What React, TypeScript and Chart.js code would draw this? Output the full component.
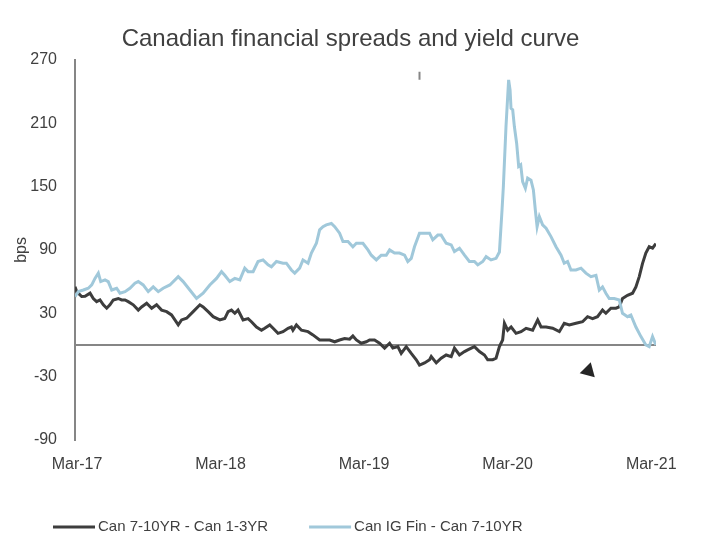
import { useEffect, useRef } from "react";
import { Chart, registerables } from "chart.js";

Chart.register(...registerables);

const TITLE = "Canadian financial spreads and yield curve";
const Y_TITLE = "bps";
const Y_MIN = -90;
const Y_MAX = 270;
const Y_STEP = 60;
const ZERO_LINE = 0;
const X_MIN = -0.17;
const X_MAX = 48.4;
const X_TICK_MONTHS = [0, 12, 24, 36, 48];
const X_TICK_LABELS = ["Mar-17", "Mar-18", "Mar-19", "Mar-20", "Mar-21"];

// x values: months since March 2017
const CURVE_LABEL = "Can 7-10YR - Can 1-3YR";
const CURVE_MONTHS = [
  -0.17, -0.03, 0.39, 0.67, 1.09, 1.36, 1.64, 1.92, 2.2, 2.48, 2.75, 3.03, 3.45, 3.73, 4.01, 4.28,
  4.7, 5.12, 5.4, 5.82, 6.24, 6.65, 7.07, 7.49, 7.9, 8.46, 8.74, 9.16, 9.71, 10.27, 10.54, 10.96,
  11.38, 11.94, 12.35, 12.63, 12.91, 13.19, 13.46, 13.88, 14.3, 14.58, 15.0, 15.42, 15.69, 16.11,
  16.39, 16.8, 17.22, 17.64, 17.92, 18.05, 18.34, 18.76, 19.31, 19.72, 20.28, 20.7, 21.12, 21.54,
  21.95, 22.37, 22.79, 23.06, 23.35, 23.76, 24.18, 24.46, 24.87, 25.29, 25.71, 26.13, 26.4, 26.82,
  27.1, 27.52, 27.94, 28.36, 28.63, 29.05, 29.47, 29.61, 30.03, 30.44, 30.86, 31.28, 31.55, 31.97,
  32.39, 32.66, 33.22, 33.64, 34.06, 34.33, 34.75, 35.03, 35.31, 35.58, 35.73, 36.0, 36.29, 36.7,
  37.12, 37.54, 38.09, 38.51, 38.79, 39.21, 39.76, 40.32, 40.73, 41.15, 41.71, 42.26, 42.68, 43.1,
  43.51, 43.93, 44.21, 44.63, 45.05, 45.33, 45.6, 46.02, 46.44, 46.72, 47.0, 47.27, 47.55, 47.83,
  48.11, 48.39,
];
const CURVE_BPS = [
  55, 50.5, 45.8, 46, 49, 44, 41, 42.6, 38, 34.8, 38, 42.6, 44, 42.6, 42.6, 41,
  38, 33, 36, 39.5, 34.8, 38, 33, 31.5, 28.4, 19, 23.7, 25.3, 31.5, 38, 36, 31.5,
  26.8, 23.7, 25, 31.5, 33, 30, 33, 23.7, 25, 22, 17, 14, 15.8, 19,
  15.8, 11, 12.6, 15.8, 17, 14, 19, 14, 12.6, 9.5, 4.7, 4.7, 4.7, 3,
  4.7, 6, 5.5, 8.5, 4.7, 1.6, 3, 4.7, 4.7, 1.6, -3, 1.6, -3, -1.6,
  -8, -1.6, -8, -14, -19, -17, -14, -11, -17, -12.6, -9.5, -11, -3, -9.5,
  -6.3, -4.7, -1.6, -6.3, -9.5, -14, -14, -12.6, -1.6, 4.7, 20.5, 14, 17, 11,
  12.6, 15.8, 14, 23.7, 17, 17, 15.8, 12.6, 20.5, 19, 20.5, 22, 26.8, 25,
  26.8, 33, 30, 34.8, 34.8, 36, 44, 47, 49, 55, 64.7, 77, 87, 93,
  91.6, 96,
];

const FIN_LABEL = "Can IG Fin - Can 7-10YR";
const FIN_MONTHS = [
  -0.17, 0.11, 0.53, 0.94, 1.23, 1.5, 1.78, 1.98, 2.34, 2.61, 2.9, 3.31, 3.59, 4.01, 4.42, 4.84,
  5.12, 5.53, 5.95, 6.37, 6.79, 7.2, 7.76, 8.46, 8.87, 9.43, 9.99, 10.54, 11.1, 11.66, 12.08, 12.35,
  12.77, 13.19, 13.61, 14.02, 14.3, 14.72, 15.13, 15.55, 15.97, 16.25, 16.67, 17.22, 17.5, 17.92,
  18.2, 18.61, 18.89, 19.31, 19.59, 20.01, 20.28, 20.56, 20.84, 21.26, 21.54, 21.95, 22.23, 22.65,
  23.06, 23.35, 23.9, 24.32, 24.6, 25.02, 25.43, 25.85, 26.13, 26.54, 26.96, 27.38, 27.65, 27.94,
  28.21, 28.63, 29.05, 29.47, 29.74, 30.16, 30.44, 30.86, 31.28, 31.55, 31.97, 32.39, 32.8, 33.22,
  33.5, 33.92, 34.2, 34.61, 35.03, 35.31, 35.53, 35.64, 35.86, 36.08, 36.2, 36.28, 36.42, 36.56,
  36.75, 36.92, 37.09, 37.25, 37.48, 37.67, 37.95, 38.15, 38.31, 38.46, 38.65, 38.92, 39.21, 39.62,
  40.04, 40.46, 40.73, 41.01, 41.29, 41.71, 42.13, 42.54, 42.96, 43.38, 43.66, 43.93, 44.21, 44.49,
  44.91, 45.33, 45.6, 46.02, 46.3, 46.72, 47.14, 47.55, 47.83, 48.11, 48.39,
];
const FIN_BPS = [
  45.8, 50.5, 52, 53.7, 56.8, 63, 68, 60, 61.6, 60, 52, 53.7, 49, 50.5, 53.7, 58.4,
  60, 56.8, 50.5, 55, 50.5, 53.7, 56.8, 64.7, 60, 52, 44, 49, 56.8, 63, 69.4, 66,
  60, 63, 61.6, 72.7, 69.4, 69.4, 79, 80.5, 75.8, 74, 79, 77.4, 77.4, 71,
  68, 72.7, 80.5, 77.4, 87, 96.3, 109, 112, 113.7, 115, 112, 105.8, 97.9, 97.9,
  93, 96.3, 96.3, 90, 85, 80.5, 85, 85, 90, 87, 87, 85, 79, 82,
  93, 105.8, 105.8, 105.8, 99.5, 104, 104, 96.3, 94.7, 88.4, 91.6, 85, 79, 79,
  75.8, 79, 83.6, 80.5, 82, 88, 128, 150, 206.8, 251, 241.6, 224, 222.6, 206.8,
  191, 169, 170.5, 154.7, 148.4, 157.9, 156, 146.8, 128, 112, 121.6, 113.7, 110.5, 102.6,
  93, 85, 77.4, 79, 71, 71, 72.7, 68, 64.7, 66, 52, 55, 49, 44,
  44, 42.6, 30, 26.8, 28.4, 17, 7.9, 0, -1.6, 7.9, 0,
];

const ARROW_MONTHS = [42.75];
const ARROW_BPS = [-24.5];
const MARK_MONTHS = [28.63, 28.63];
const MARK_BPS = [258.6, 251];

const FONT = '"Liberation Sans", Arial, sans-serif';
const TEXT = "#404040";
const AXIS_GRAY = "#868686";

const pts = (xs: number[], ys: number[]) => xs.map((x, i) => ({ x, y: ys[i] }));

const zeroLinePlugin = {
  id: "zeroLine",
  beforeDatasetsDraw(chart: any) {
    const { ctx, chartArea, scales } = chart;
    const y = scales.y.getPixelForValue(ZERO_LINE);
    ctx.save();
    ctx.strokeStyle = AXIS_GRAY;
    ctx.lineWidth = 2;
    ctx.beginPath();
    ctx.moveTo(chartArea.left, y);
    ctx.lineTo(chartArea.right, y);
    ctx.stroke();
    ctx.restore();
  },
};

const legendPlugin = {
  id: "bottomLegend",
  afterDraw(chart: any) {
    const ctx = chart.ctx;
    const items = chart.data.datasets
      .filter((d: any) => d.legendIndex !== undefined)
      .sort((a: any, b: any) => a.legendIndex - b.legendIndex);
    ctx.save();
    ctx.font = `15px ${FONT}`;
    ctx.textBaseline = "middle";
    ctx.textAlign = "left";
    let x = 45;
    const y = chart.height - 8;
    items.forEach((d: any) => {
      ctx.strokeStyle = d.borderColor;
      ctx.lineWidth = 3;
      ctx.beginPath();
      ctx.moveTo(x, y);
      ctx.lineTo(x + 42, y);
      ctx.stroke();
      ctx.fillStyle = TEXT;
      ctx.fillText(d.label, x + 45, y);
      x += 45 + ctx.measureText(d.label).width + 41;
    });
    ctx.restore();
  },
};

export default function App() {
  const ref = useRef<HTMLCanvasElement>(null);
  useEffect(() => {
    if (!ref.current) return;
    const chart = new Chart(ref.current, {
      type: "line",
      data: {
        datasets: [
          {
            label: "arrow",
            type: "scatter",
            data: pts(ARROW_MONTHS, ARROW_BPS),
            pointStyle: "triangle",
            pointRadius: 9,
            rotation: 15,
            backgroundColor: "#262626",
            borderColor: "#262626",
            borderWidth: 0,
          } as any,
          {
            label: "mark",
            data: pts(MARK_MONTHS, MARK_BPS),
            borderColor: AXIS_GRAY,
            borderWidth: 2,
            pointRadius: 0,
          },
          {
            label: FIN_LABEL,
            data: pts(FIN_MONTHS, FIN_BPS),
            borderColor: "#a0c8da",
            borderWidth: 3,
            pointRadius: 0,
            tension: 0,
            legendIndex: 1,
          } as any,
          {
            label: CURVE_LABEL,
            data: pts(CURVE_MONTHS, CURVE_BPS),
            borderColor: "#3d3d3d",
            borderWidth: 3,
            pointRadius: 0,
            tension: 0,
            legendIndex: 0,
          } as any,
        ],
      },
      options: {
        animation: false,
        responsive: true,
        maintainAspectRatio: false,
        layout: { padding: { top: 0, left: 0, right: 0, bottom: 0 } },
        plugins: {
          legend: { display: false },
          tooltip: { enabled: false },
          title: {
            display: true,
            text: TITLE,
            color: TEXT,
            font: { family: FONT, size: 24, weight: "normal" },
            padding: { top: 17, bottom: 6 },
          },
        },
        scales: {
          x: {
            type: "linear",
            min: X_MIN,
            max: X_MAX,
            grid: { display: false },
            border: { display: false },
            afterBuildTicks: (scale: any) => {
              scale.ticks = X_TICK_MONTHS.map((v) => ({ value: v }));
            },
            afterFit: (scale: any) => {
              scale.height = 95;
            },
            ticks: {
              autoSkip: false,
              maxRotation: 0,
              padding: 7,
              color: TEXT,
              font: { family: FONT, size: 16 },
              callback: (v: any) => {
                const i = X_TICK_MONTHS.indexOf(Number(v));
                return i >= 0 ? X_TICK_LABELS[i] : "";
              },
            },
          },
          y: {
            min: Y_MIN,
            max: Y_MAX,
            afterFit: (scale: any) => {
              scale.width = 67;
            },
            ticks: {
              stepSize: Y_STEP,
              padding: 18,
              color: TEXT,
              font: { family: FONT, size: 16 },
            },
            grid: { display: false, drawTicks: false },
            border: { display: true, color: AXIS_GRAY, width: 2 },
            title: {
              display: true,
              text: Y_TITLE,
              color: TEXT,
              font: { family: FONT, size: 16 },
              padding: { top: 4, bottom: 4 },
            },
          },
          yRight: {
            position: "right",
            min: Y_MIN,
            max: Y_MAX,
            display: true,
            grid: { display: false, drawTicks: false },
            border: { display: false },
            ticks: { display: false },
            afterFit: (scale: any) => {
              scale.width = 37;
            },
          },
        },
      },
      plugins: [zeroLinePlugin, legendPlugin],
    });
    return () => chart.destroy();
  }, []);
  return (
    <div style={{ width: 685, height: 527, position: "relative" }}>
      <canvas ref={ref} />
    </div>
  );
}
